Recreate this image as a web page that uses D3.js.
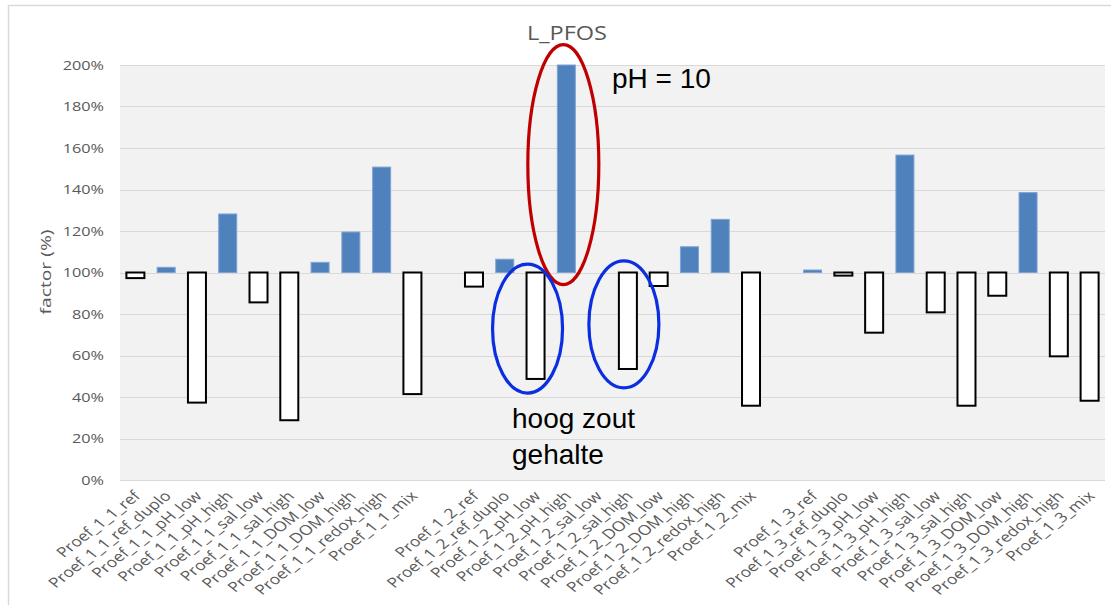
<!DOCTYPE html>
<html>
<head>
<meta charset="utf-8">
<script src="https://cdn.jsdelivr.net/npm/d3@7"></script>
<style>
  body { margin: 0; background: #fff; }
  svg { display: block; }
</style>
</head>
<body>
<div id="chart"></div>
<script>
// condities per proef
var conditions = ["ref", "ref_duplo", "pH_low", "pH_high", "sal_low", "sal_high",
                  "DOM_low", "DOM_high", "redox_high", "mix"];
var proeven = ["Proef_1_1", "Proef_1_2", "Proef_1_3"];

// factor (%) per conditie
var proef_1_1 = [97.3, 102.5, 37.3, 128.2, 85.6, 28.8, 104.9, 119.5, 150.8, 41.4];
var proef_1_2 = [93.2, 106.4, 48.7, 200, null, 53.5, 93.5, 112.4, 125.6, 35.8];
var proef_1_3 = [101.2, 98.5, 71.0, 156.6, 80.8, 35.8, 88.8, 138.5, 59.6, 38.2];

var yTicks = [0, 20, 40, 60, 80, 100, 120, 140, 160, 180, 200];
var baseline = 100;

function init() {
    var w = 1111;
    var h = 605;
    var left = 120, right = 1105, top = 65, bottom = 480;

    // categorieen met een lege plek tussen de proeven
    var categories = [];
    var values = [];
    [proef_1_1, proef_1_2, proef_1_3].forEach(function(vals, p) {
        if (p > 0) { categories.push(""); values.push(null); }
        conditions.forEach(function(c, i) {
            categories.push(proeven[p] + "_" + c);
            values.push(vals[i]);
        });
    });

    var x = d3.scaleBand()
              .domain(d3.range(categories.length))
              .range([left, right])
              .paddingInner(0.415)
              .paddingOuter(0.2075);

    var y = d3.scaleLinear()
              .domain([0, 200])
              .range([bottom, top]);

    var svg = d3.select("#chart")
                .append("svg")
                .attr("width", w)
                .attr("height", h);

    // kader
    svg.append("rect")
       .attr("x", 8.5).attr("y", 5.5)
       .attr("width", 1120).attr("height", 620)
       .attr("fill", "#fff")
       .attr("stroke", "#d9d9d9")
       .attr("stroke-width", 1.5);

    svg.append("rect")
       .attr("x", left).attr("y", top)
       .attr("width", right - left).attr("height", bottom - top)
       .attr("fill", "#f2f2f2");

    // rasterlijnen
    svg.append("g")
       .selectAll("line")
       .data(yTicks)
       .enter()
       .append("line")
       .attr("x1", left).attr("x2", right)
       .attr("y1", function(d) { return Math.round(y(d)) + 0.5; })
       .attr("y2", function(d) { return Math.round(y(d)) + 0.5; })
       .attr("stroke", "#d9d9d9")
       .attr("stroke-width", 1.2);

    // y-as
    var yAxis = svg.append("g")
        .attr("transform", "translate(" + left + ",0)")
        .call(d3.axisLeft(y).tickValues(yTicks).tickSize(0).tickPadding(16)
              .tickFormat(function(d) { return d + "%"; }));
    yAxis.select(".domain").remove();
    yAxis.selectAll("text")
         .attr("fill", "#595959")
         .style("font-family", "'Open Sans'")
         .style("font-size", "13px")
         .attr("lengthAdjust", "spacingAndGlyphs")
         .attr("textLength", function() { return this.getComputedTextLength() * 1.25; });

    // x-as
    var xAxis = svg.append("g")
        .attr("transform", "translate(0," + bottom + ")")
        .call(d3.axisBottom(x).tickSize(0)
              .tickFormat(function(i) { return categories[i]; }));
    xAxis.select(".domain").remove();
    xAxis.selectAll("text")
         .attr("x", 0).attr("y", 0).attr("dy", 0)
         .attr("text-anchor", "end")
         .attr("transform", "translate(6,17) scale(1.27,1) rotate(-45)")
         .attr("fill", "#595959")
         .style("font-family", "'Open Sans'")
         .style("font-size", "13.8px");

    // staven vanaf 100%
    var bars = values.map(function(v, i) { return { i: i, v: v }; })
                     .filter(function(d) { return d.v !== null; });

    svg.append("g")
       .selectAll("rect")
       .data(bars)
       .enter()
       .append("rect")
       .attr("x", function(d) { return x(d.i); })
       .attr("width", x.bandwidth())
       .attr("y", function(d) { return d.v >= baseline ? y(d.v) : y(baseline); })
       .attr("height", function(d) { return Math.abs(y(d.v) - y(baseline)); })
       .attr("fill", function(d) { return d.v >= baseline ? "#4f81bd" : "#ffffff"; })
       .attr("stroke", function(d) { return d.v >= baseline ? "#7fa3d3" : "#000"; })
       .attr("stroke-width", function(d) { return d.v >= baseline ? 1 : 2; });

    // titels
    svg.append("text")
       .attr("x", 567).attr("y", 40)
       .attr("text-anchor", "middle")
       .attr("fill", "#595959")
       .style("font-family", "'Open Sans'")
       .style("font-size", "20px")
       .attr("lengthAdjust", "spacingAndGlyphs")
       .attr("textLength", 80)
       .text("L_PFOS");

    svg.append("text")
       .attr("transform", "translate(51,272) rotate(-90)")
       .attr("text-anchor", "middle")
       .attr("fill", "#595959")
       .style("font-family", "'Open Sans'")
       .style("font-size", "14.5px")
       .attr("lengthAdjust", "spacingAndGlyphs")
       .attr("textLength", 85)
       .text("factor (%)");

    // markeringen
    var idx = function(name) { return categories.indexOf(name); };
    var cx = function(name) { return x(idx(name)) + x.bandwidth() / 2; };

    var marks = [
        { name: "Proef_1_2_pH_high", dx: -3, cy: 152, rx: 35.5, ry: 120, color: "#c00000" },
        { name: "Proef_1_2_pH_low", dx: -8, cy: 73, rx: 35, ry: 64.5, color: "#0b2fe0" },
        { name: "Proef_1_2_sal_high", dx: -4, cy: 75, rx: 35, ry: 63.5, color: "#0b2fe0" }
    ];

    svg.append("g")
       .selectAll("ellipse")
       .data(marks)
       .enter()
       .append("ellipse")
       .attr("cx", function(d) { return cx(d.name) + d.dx; })
       .attr("cy", function(d) { return y(d.cy); })
       .attr("rx", function(d) { return d.rx; })
       .attr("ry", function(d) { return d.ry; })
       .attr("fill", "none")
       .attr("stroke", function(d) { return d.color; })
       .attr("stroke-width", 3.2);

    var notes = [
        { text: "pH = 10", x: 612, y: 88 },
        { text: "hoog zout", x: 512, y: 428 },
        { text: "gehalte", x: 512, y: 464 }
    ];

    svg.append("g")
       .selectAll("text")
       .data(notes)
       .enter()
       .append("text")
       .attr("x", function(d) { return d.x; })
       .attr("y", function(d) { return d.y; })
       .attr("fill", "#000")
       .style("font-family", "'Liberation Sans', Arial, sans-serif")
       .style("font-size", "28px")
       .text(function(d) { return d.text; });
}

window.onload = init;
</script>
</body>
</html>
